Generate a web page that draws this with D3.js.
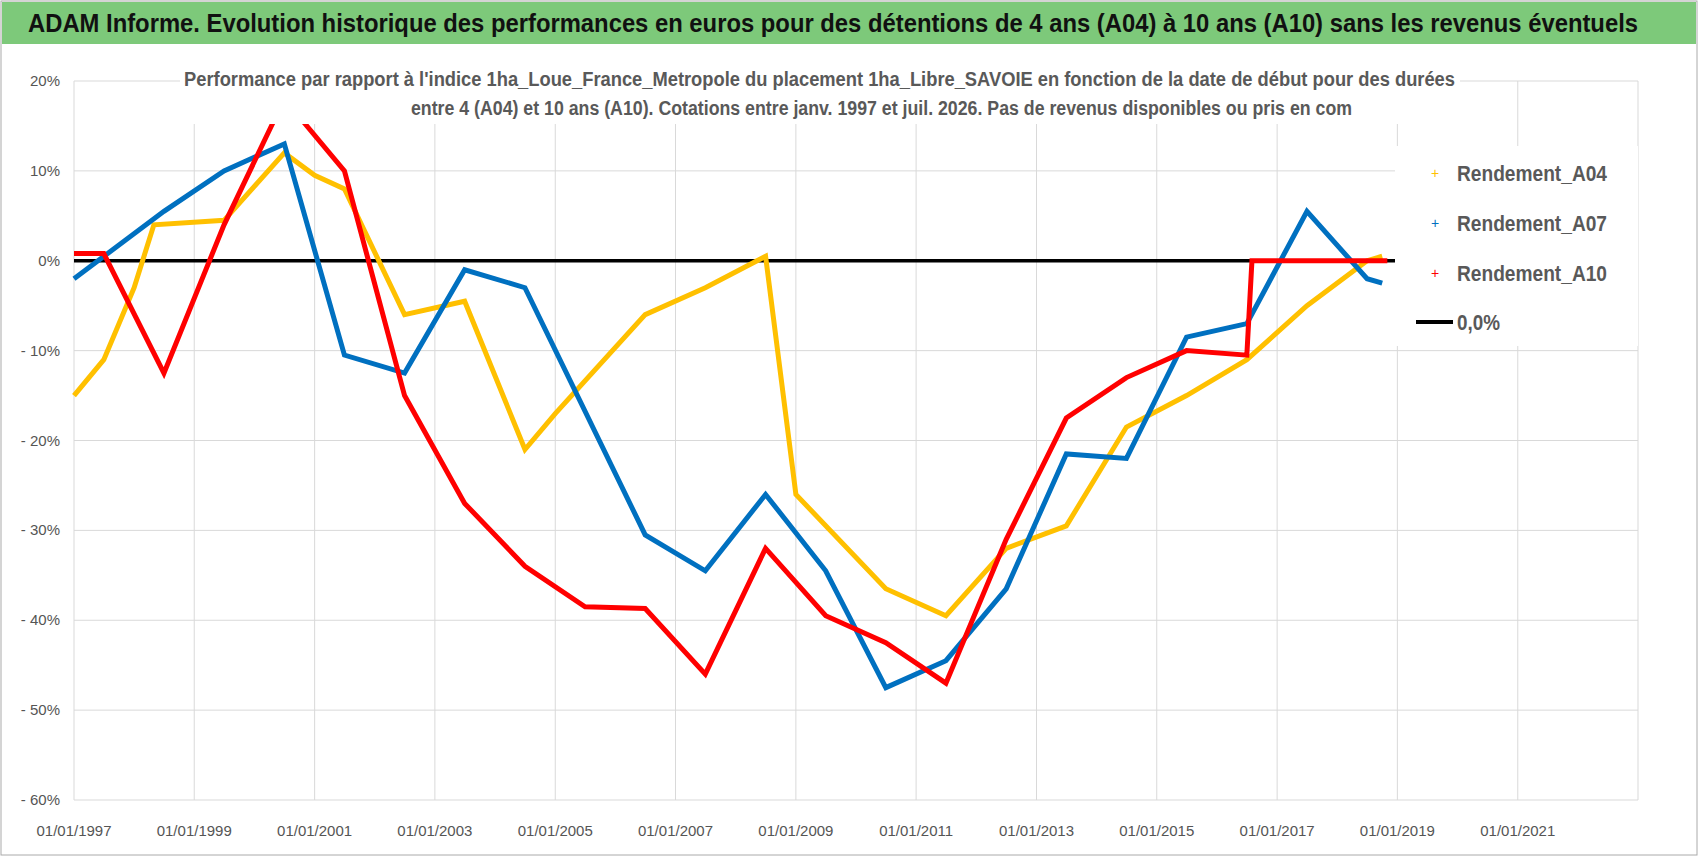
<!DOCTYPE html>
<html><head><meta charset="utf-8">
<script src="https://cdn.jsdelivr.net/npm/d3@7"></script>
<style>
body{margin:0;background:#fff;font-family:"Liberation Sans","Open Sans",sans-serif}
</style></head><body>
<svg id="c" width="1698" height="856"></svg>
<script>
var a04Dates = ['1997-01','1997-07','1998-01','1998-05','1999-07','2000-07','2001-01','2001-07','2002-07','2003-07','2004-07','2005-01','2006-07','2007-07','2008-07','2009-01','2010-07','2011-07','2012-07','2013-07','2014-07','2015-07','2016-07','2017-07','2018-07','2018-10']
var a04Values = [-15, -11, -3, 4, 4.5, 12, 9.5, 8, -6, -4.5, -21, -17, -6, -3, 0.5, -26, -36.5, -39.5, -32, -29.5, -18.5, -15, -11, -5, 0, 0.5]
var a07Dates = ['1997-01','1998-07','1999-07','2000-07','2001-07','2002-07','2003-07','2004-07','2006-07','2007-07','2008-07','2009-07','2010-07','2011-07','2012-07','2013-07','2014-07','2015-07','2016-07','2017-07','2018-07','2018-10']
var a07Values = [-2, 5.5, 10, 13, -10.5, -12.5, -1, -3, -30.5, -34.5, -26, -34.5, -47.5, -44.5, -36.5, -21.5, -22, -8.5, -7, 5.5, -2, -2.5]
var a10Dates = ['1997-01','1997-07','1998-07','1999-07','2000-07','2001-07','2002-07','2003-07','2004-07','2005-07','2006-07','2007-07','2008-07','2009-07','2010-07','2011-07','2012-07','2013-07','2014-07','2015-07','2016-07','2016-08','2018-11']
var a10Values = [0.8, 0.8, -12.5, 4, 18, 10, -15, -27, -34, -38.5, -38.7, -46, -32, -39.5, -42.5, -47, -31, -17.5, -13, -10, -10.5, 0, 0]
var yTicks = [20, 10, 0, -10, -20, -30, -40, -50, -60]
var xTickYears = [1997, 1999, 2001, 2003, 2005, 2007, 2009, 2011, 2013, 2015, 2017, 2019, 2021]

var svg = d3.select('#c')
var parse = d3.timeParse('%Y-%m')
var x = d3.scaleTime().domain([new Date(1997, 0, 1), new Date(2023, 0, 1)]).range([74, 1638])
var y = d3.scaleLinear().domain([-60, 20]).range([800, 81])

// frame + header
svg.append('rect').attr('x', 1).attr('y', 1).attr('width', 1696).attr('height', 854).attr('fill', 'none').attr('stroke', '#aaa')
svg.append('rect').attr('x', 2).attr('y', 2).attr('width', 1694).attr('height', 42).attr('fill', '#7dc97a')
svg.append('text').attr('x', 28).attr('y', 32).attr('font-size', 26).attr('font-weight', 'bold').attr('fill', '#111')
  .attr('textLength', 1610).attr('lengthAdjust', 'spacingAndGlyphs')
  .text('ADAM Informe. Evolution historique des performances en euros pour des détentions de 4 ans (A04) à 10 ans (A10) sans les revenus éventuels')

// grid
svg.append('g').selectAll('line').data(yTicks).join('line')
  .attr('x1', 74).attr('x2', 1638).attr('y1', d => y(d)).attr('y2', d => y(d)).attr('stroke', '#d9d9d9')
svg.append('g').selectAll('line').data(xTickYears.concat([2023])).join('line')
  .attr('x1', d => x(new Date(d, 0, 1))).attr('x2', d => x(new Date(d, 0, 1)))
  .attr('y1', 81).attr('y2', 800).attr('stroke', '#d9d9d9')

svg.append('g').selectAll('text').data(yTicks).join('text')
  .attr('x', 60).attr('y', d => y(d) + 5).attr('text-anchor', 'end').attr('font-size', 15).attr('fill', '#555')
  .text(d => (d < 0 ? '- ' + (-d) : d) + '%')
svg.append('g').selectAll('text').data(xTickYears).join('text')
  .attr('x', d => x(new Date(d, 0, 1))).attr('y', 836).attr('text-anchor', 'middle').attr('font-size', 15).attr('fill', '#555')
  .text(d => '01/01/' + d)

// zero line
svg.append('line').attr('x1', 74).attr('x2', 1638).attr('y1', y(0)).attr('y2', y(0)).attr('stroke', '#000').attr('stroke-width', 3.5)

var line = d3.line().x(d => x(d.d)).y(d => y(d.v))
function series (dates, values, color) {
  var data = dates.map((d, i) => ({ d: parse(d), v: values[i] }))
  svg.append('path').datum(data).attr('d', line).attr('fill', 'none').attr('stroke', color).attr('stroke-width', 5)
}
series(a04Dates, a04Values, '#ffc000')
series(a07Dates, a07Values, '#0070c0')
series(a10Dates, a10Values, '#ff0000')

// subtitle box over the plot
svg.append('rect').attr('x', 180).attr('y', 64).attr('width', 1280).attr('height', 60).attr('fill', '#fff')
var st = svg.append('text').attr('font-size', 20).attr('font-weight', 'bold').attr('fill', '#595959')
st.append('tspan').attr('x', 184).attr('y', 86).attr('textLength', 1271).attr('lengthAdjust', 'spacingAndGlyphs')
  .text("Performance par rapport à l'indice 1ha_Loue_France_Metropole  du placement 1ha_Libre_SAVOIE en fonction de la date de début pour des durées")
st.append('tspan').attr('x', 411).attr('y', 115).attr('textLength', 941).attr('lengthAdjust', 'spacingAndGlyphs')
  .text('entre 4 (A04) et 10 ans (A10). Cotations entre janv. 1997 et juil. 2026. Pas de revenus disponibles ou pris en com')

// legend
svg.append('rect').attr('x', 1395).attr('y', 146).attr('width', 243).attr('height', 200).attr('fill', '#fff')
var leg = [['Rendement_A04', '#ffc000'], ['Rendement_A07', '#0070c0'], ['Rendement_A10', '#ff0000']]
leg.forEach(function (l, i) {
  var ly = 173 + i * 50
  svg.append('text').attr('x', 1435).attr('y', ly).attr('text-anchor', 'middle').attr('font-size', 14).attr('fill', l[1]).attr('dy', '0.35em').text('+')
  svg.append('text').attr('x', 1457).attr('y', ly + 8).attr('font-size', 22).attr('font-weight', 'bold').attr('fill', '#595959')
    .attr('textLength', 150).attr('lengthAdjust', 'spacingAndGlyphs').text(l[0])
})
svg.append('line').attr('x1', 1416).attr('x2', 1453).attr('y1', 322).attr('y2', 322).attr('stroke', '#000').attr('stroke-width', 4)
svg.append('text').attr('x', 1457).attr('y', 330).attr('font-size', 22).attr('font-weight', 'bold').attr('fill', '#595959')
  .attr('textLength', 43).attr('lengthAdjust', 'spacingAndGlyphs').text('0,0%')
</script>
</body></html>
